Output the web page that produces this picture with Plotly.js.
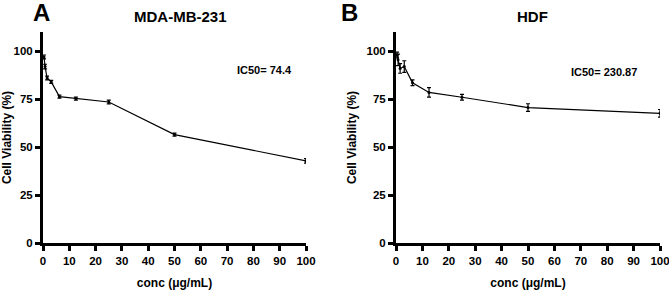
<!DOCTYPE html>
<html><head><meta charset="utf-8">
<script src="https://cdn.plot.ly/plotly-3.0.1.min.js"></script>
<style>html,body{margin:0;padding:0;background:#fff}#chart{width:669px;height:290px}</style>
</head><body><div id="chart"></div>
<script>
// Concentrations (µg/mL)
const concA = [0.39, 0.78, 1.56, 3.125, 6.25, 12.5, 25, 50, 100];
const viabA = [97, 92, 86, 84, 76.3, 75.3, 73.5, 56.5, 42.8];
const errA  = [1.0, 1.2, 1.0, 0.8, 0.8, 0.8, 1.0, 0.8, 1.2];

const concB = [0.39, 0.78, 1.56, 3.125, 6.25, 12.5, 25, 50, 100];
const viabB = [98, 95.5, 91, 92, 83.5, 78.5, 76, 70.6, 67.6];
const errB  = [1.5, 3.0, 2.5, 3.0, 1.5, 2.5, 1.5, 2.0, 2.0];

const xTicks = [0,10,20,30,40,50,60,70,80,90,100];
const yTicks = [0,25,50,75,100];

const FONT = 'Liberation Sans, Arial, sans-serif';

function trace(x, y, e, xa, ya) {
  return {
    x: x, y: y, xaxis: xa, yaxis: ya, type: 'scatter', mode: 'lines+markers',
    line: {color: '#000', width: 1.2},
    marker: {color: '#000', size: 3},
    error_y: {type: 'data', array: e, visible: true, color: '#000', thickness: 1.2, width: 2},
    showlegend: false, hoverinfo: 'skip'
  };
}

function xax(domain, anchor) {
  return {
    domain: domain, anchor: anchor, range: [0, 100],
    showline: true, linewidth: 3, linecolor: '#000', mirror: false,
    showgrid: false, zeroline: false, automargin: false,
    ticklabeloverflow: 'allow',
    ticks: 'outside', ticklen: 5, tickwidth: 3, tickcolor: '#000',
    tickvals: xTicks, ticktext: xTicks.map(String),
    tickfont: {family: FONT, size: 11.5, color: '#000', weight: 'bold'},
    title: {text: 'conc (μg/mL)', font: {family: FONT, size: 12, color: '#000', weight: 'bold'}, standoff: 14}
  };
}
function yax(domain, anchor) {
  return {
    domain: domain, anchor: anchor, range: [0, 110],
    showline: true, linewidth: 3, linecolor: '#000',
    showgrid: false, zeroline: false, automargin: false,
    ticklabeloverflow: 'allow',
    ticks: 'outside', ticklen: 5, tickwidth: 3, tickcolor: '#000',
    tickvals: yTicks, ticktext: yTicks.map(String),
    tickfont: {family: FONT, size: 11.5, color: '#000', weight: 'bold'},
    title: {text: 'Cell Viability (%)', font: {family: FONT, size: 12, color: '#000', weight: 'bold'}, standoff: 8}
  };
}

function ann(text, xpx, ypx, size) {
  return {text: text, x: xpx/669, y: 1 - ypx/290, xref: 'paper', yref: 'paper',
    xanchor: 'center', yanchor: 'middle', showarrow: false,
    font: {family: FONT, size: size, color: '#000', weight: 'bold'}};
}

const yDom = [1 - 243/290, 1 - 32/290];
const layout = {
  width: 669, height: 290,
  margin: {l: 0, r: 0, t: 0, b: 0},
  paper_bgcolor: '#fff', plot_bgcolor: '#fff',
  xaxis: xax([43/669, 306/669], 'y'),
  yaxis: yax(yDom, 'x'),
  xaxis2: xax([396/669, 660/669], 'y2'),
  yaxis2: yax(yDom, 'x2'),
  annotations: [
    ann('A', 41, 13, 24),
    ann('B', 349, 13, 24),
    ann('MDA-MB-231', 180, 16, 15),
    ann('HDF', 532, 16, 15),
    ann('IC50= 74.4', 264, 70, 11),
    ann('IC50= 230.87', 604, 72, 11)
  ]
};

Plotly.newPlot('chart', [trace(concA, viabA, errA, 'x', 'y'), trace(concB, viabB, errB, 'x2', 'y2')], layout, {staticPlot: true});
</script></body></html>
